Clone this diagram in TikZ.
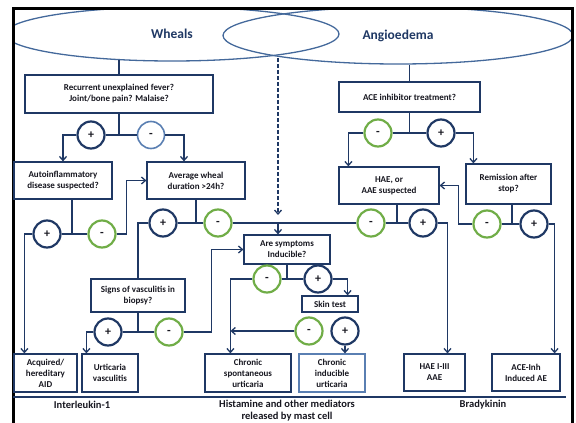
\documentclass[tikz,border=0pt]{standalone}
\usepackage{fontspec}
\setmainfont{Carlito}
\usetikzlibrary{shapes.geometric,arrows.meta}
\definecolor{navy}{HTML}{1F3864}
\definecolor{leaf}{HTML}{70AD47}
\definecolor{steel}{HTML}{44699B}
\definecolor{pale}{HTML}{5A7FB2}
\definecolor{ink}{HTML}{16161F}

\begin{document}
\begin{tikzpicture}[x=1pt, y=-1pt,
      every node/.style = {text=ink, align=center, inner sep=1pt,
        font=\bfseries\fontsize{9}{11}\selectfont},
      qbox/.style = {shape=rectangle, draw=navy, line width=1.2pt, fill=white},
      plusc/.style = {shape=circle, draw=navy, line width=2.2pt, fill=white,
        minimum size=27pt, inner sep=0pt, font=\bfseries\fontsize{12}{14}\selectfont},
      minusc/.style = {plusc, draw=leaf},
      palec/.style = {plusc, draw=pale, line width=1.6pt},
      field/.style = {shape=ellipse, draw=steel, line width=1.3pt, inner sep=0pt,
        text=navy, font=\bfseries\fontsize{13.5}{16}\selectfont},
      cause/.style = {font=\bfseries\fontsize{10.5}{12}\selectfont},
      link/.style = {draw=navy, line width=1.3pt},
      arr/.style = {link, -{Straight Barb[length=4pt,width=7pt]}}]
  \useasboundingbox (0,0) rectangle (576,423);

  \begin{scope}
    \clip (13,8) rectangle (573,423);
    \node[field, minimum width=334pt, minimum height=54pt] (wheals) at (172,34) {Wheals};
    \node[field, minimum width=350pt, minimum height=57pt] (angio) at (398,35.5) {Angioedema};
  \end{scope}
  \draw[line width=3pt] (13.2,423) -- (13.2,8.2) -- (572.8,8.2) -- (572.8,423);

  \node[qbox, minimum width=188pt, minimum height=38pt] (q1) at (119,94)
    {Recurrent unexplained fever?\\Joint/bone pain? Malaise?};
  \node[qbox, minimum width=141pt, minimum height=30pt] (qace) at (409.5,97) {ACE inhibitor treatment?};
  \node[qbox, minimum width=98pt, minimum height=37pt] (qauto) at (63,180.5) {Autoinflammatory\\disease suspected?};
  \node[qbox, minimum width=98pt, minimum height=37pt] (qdur) at (196,180.5) {Average wheal\\duration >24h?};
  \node[qbox, minimum width=100pt, minimum height=37pt] (qhae) at (389,185.5) {HAE, or\\AAE suspected};
  \node[qbox, minimum width=85pt, minimum height=40pt] (qrem) at (508.5,184) {Remission after\\stop?};
  \node[qbox, minimum width=86pt, minimum height=29pt] (qind) at (287,249.5) {Are symptoms\\Inducible?};
  \node[qbox, minimum width=94pt, minimum height=33pt] (qvasc) at (138,295.5) {Signs of vasculitis in\\biopsy?};
  \node[qbox, minimum width=56pt, minimum height=16pt] (skin) at (330,304) {Skin test};

  \node[qbox, minimum width=63pt, minimum height=38pt] (aid) at (45.5,373) {Acquired/\\hereditary\\AID};
  \node[qbox, minimum width=56pt, minimum height=38pt] (uv) at (110,373) {Urticaria\\vasculitis};
  \node[qbox, minimum width=86pt, minimum height=38pt] (csu) at (248,373) {Chronic\\spontaneous\\urticaria};
  \node[qbox, draw=pale, minimum width=66pt, minimum height=38pt] (cindu) at (332,373) {Chronic\\inducible\\urticaria};
  \node[qbox, minimum width=61pt, minimum height=37pt] (hae) at (434.5,372.5) {HAE I-III\\AAE};
  \node[qbox, minimum width=68pt, minimum height=37pt] (aceae) at (526,372.5) {ACE-Inh\\Induced AE};

  \node[plusc] (p1) at (91,135) {+};
  \node[palec] (m1) at (151,135) {-};
  \node[minusc] (m2) at (378,133) {-};
  \node[plusc] (p2) at (441,133) {+};
  \node[plusc] (p3) at (47,234) {+};
  \node[minusc] (m3) at (102,234) {-};
  \node[plusc] (p4) at (163,223) {+};
  \node[minusc] (m4) at (218,223) {-};
  \node[minusc] (m5) at (371,223) {-};
  \node[plusc] (p5) at (423,223) {+};
  \node[minusc] (m6) at (487,224) {-};
  \node[plusc] (p6) at (534,224) {+};
  \node[minusc] (m7) at (267,279) {-};
  \node[plusc] (p7) at (318,279) {+};
  \node[plusc] (p8) at (108,332) {+};
  \node[minusc] (m8) at (169,332) {-};
  \node[minusc] (m9) at (309,331) {-};
  \node[plusc] (p9) at (345,331) {+};

  \coordinate (cross) at (278,58);
  \coordinate (sa) at ([xshift=9pt]qauto.south);
  \coordinate (sh) at ([xshift=8pt]qhae.south);
  \coordinate (sr) at ([xshift=3.5pt]qrem.south);
  \coordinate (csuin) at ([xshift=26pt]csu.north west);

  \draw[link] (q1.north) -- (q1.north |- wheals.206);
  \draw[link] (qace.north) -- (qace.north |- angio.south);
  \draw[arr, dash pattern=on 4pt off 2pt] (cross) -- ([yshift=8pt]cross |- m4);
  \draw[arr] (cross |- m4) -- (cross |- qind.north);

  \draw[link] (q1.south) -- (q1.south |- p1);
  \draw[link] (p1.east) -- (m1.west);
  \draw[arr] (p1.west) -| (qauto.north);
  \draw[arr] (m1.east) -| ([xshift=-12pt]qdur.north);

  \draw[link] (qace.south) -- (qace.south |- m2);
  \draw[link] (m2.east) -- (p2.west);
  \draw[arr] (m2.west) -| ([xshift=10pt]qhae.north west);
  \draw[arr] (p2.east) -| ([xshift=8pt]qrem.north west);

  \draw[link] (sa) -- (sa |- p3);
  \draw[link] (p3.east) -- (m3.west);
  \draw[arr] (p3.west) -| ([xshift=11pt]aid.north west);
  \draw[arr] (m3.east) -- ++(10,0) |- (qdur.west);

  \draw[link] (qdur.south) -- (qdur.south |- p4);
  \draw[link] (p4.east) -- (m4.west);
  \draw[link] (p4.west) -| (qvasc.north);
  \draw[link] (m4.east) -- (m5.west);

  \draw[link] (sh) -- (sh |- m5);
  \draw[link] (m5.east) -- (p5.west);
  \draw[arr] (p5.east) -| ([xshift=13pt]hae.north);

  \draw[link] (sr) -- (sr |- m6);
  \draw[link] (m6.east) -- (p6.west);
  \draw[arr] (m6.west) -- ++(-14,0) |- (qhae.east);
  \draw[arr] (p6.east) -| ([xshift=-6pt]aceae.north east);

  \draw[link] (qind.south) -- (qind.south |- m7);
  \draw[link] (m7.east) -- (p7.west);
  \draw[arr] (m7.west) -| (csuin);
  \draw[arr] (p7.east) -| ([xshift=-11pt]skin.north east);

  \draw[link] (qvasc.south) -- (qvasc.south |- p8);
  \draw[link] (p8.east) -- (m8.west);
  \draw[arr] (p8.west) -| ([xshift=5pt]uv.north west);
  \draw[arr] (m8.east) -- ++(28,0) |- (qind.west);

  \draw[arr] (m9.west) -- (m9.west -| csuin);
  \draw[arr] (p9.south) -- (p9.south |- cindu.north);

  \draw[link] (13,397) -- (566,397);
  \node[cause] (il) at (82,405) {Interleukin-1};
  \node[cause] (hist) at (287,411) {Histamine and other mediators\\released by mast cell};
  \node[cause] (brady) at (483,405) {Bradykinin};
\end{tikzpicture}
\end{document}
